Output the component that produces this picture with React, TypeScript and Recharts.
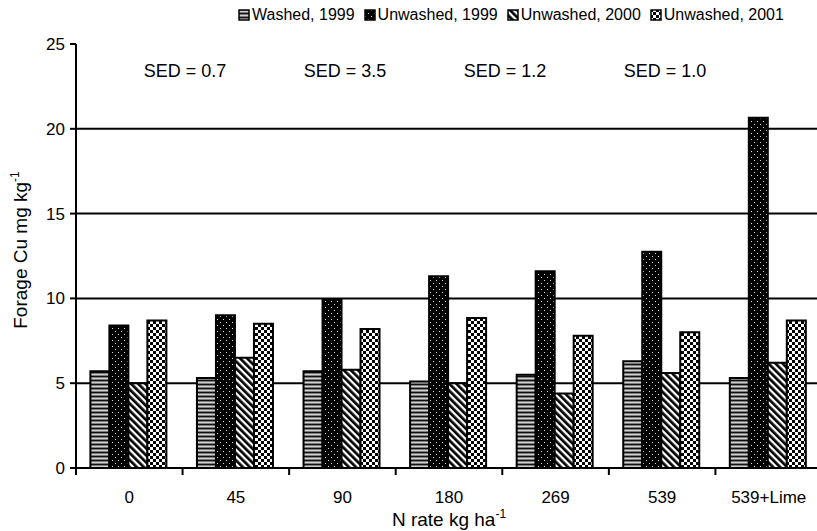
import React from 'react';
import { BarChart, Bar, XAxis, YAxis, CartesianGrid, Legend, Customized, Label } from 'recharts';

const categories = ['0', '45', '90', '180', '269', '539', '539+Lime'];
const seriesNames = ['Washed, 1999', 'Unwashed, 1999', 'Unwashed, 2000', 'Unwashed, 2001'];
const washed1999 = [5.7, 5.3, 5.7, 5.1, 5.5, 6.3, 5.3];
const unwashed1999 = [8.4, 9.0, 9.9, 11.3, 11.6, 12.75, 20.65];
const unwashed2000 = [5.0, 6.5, 5.8, 5.0, 4.4, 5.6, 6.2];
const unwashed2001 = [8.7, 8.5, 8.2, 8.85, 7.8, 8.0, 8.7];
const yTicks = [0, 5, 10, 15, 20, 25];
const gridValues = [5, 10, 15, 20];
const sedLabels = ['SED = 0.7', 'SED = 3.5', 'SED = 1.2', 'SED = 1.0'];
const sedX = [185, 345, 505, 665];

const FONT = '"Liberation Sans", Arial, Helvetica, sans-serif';
const keys = ['w99', 'u99', 'u00', 'u01'];
const patternIds = ['patW99', 'patU99', 'patU00', 'patU01'];

const data = categories.map((c, i) => ({
  cat: c,
  w99: washed1999[i],
  u99: unwashed1999[i],
  u00: unwashed2000[i],
  u01: unwashed2001[i],
}));

const Patterns = () => (
  <defs>
    <pattern id="patW99" patternUnits="userSpaceOnUse" width="6" height="4">
      <rect x="0" y="0" width="6" height="4" fill="#7c7c7c" />
      <rect x="0" y="0" width="6" height="1" fill="#111" />
      <rect x="0" y="2" width="6" height="1" fill="#d0d0d0" />
    </pattern>
    <pattern id="patU99" patternUnits="userSpaceOnUse" width="6" height="6">
      <rect x="0" y="0" width="6" height="6" fill="#000" />
      <rect x="1" y="1" width="1" height="1" fill="#ddd" />
      <rect x="4" y="4" width="1" height="1" fill="#ddd" />
    </pattern>
    <pattern id="patU00" patternUnits="userSpaceOnUse" width="5" height="10" patternTransform="rotate(-45)">
      <rect x="0" y="0" width="5" height="10" fill="#fff" />
      <rect x="0" y="0" width="2.7" height="10" fill="#000" />
    </pattern>
    <pattern id="patU01" patternUnits="userSpaceOnUse" width="6" height="6">
      <rect x="0" y="0" width="6" height="6" fill="#fff" />
      <rect x="0" y="0" width="3" height="3" fill="#000" />
      <rect x="3" y="3" width="3" height="3" fill="#000" />
    </pattern>
  </defs>
);

const XTick = (props: any) => {
  const { x, y, payload } = props;
  const half = payload && typeof payload.offset === 'number' ? payload.offset : 53.3;
  return (
    <g>
      <line x1={x - half} x2={x - half} y1={y} y2={y + 7} stroke="#000" strokeWidth={2} />
      <text x={x} y={y + 35} textAnchor="middle" fontFamily={FONT} fontSize={17} fill="#000">
        {payload.value}
      </text>
    </g>
  );
};

const LegendContent = () => (
  <div style={{ display: 'flex', alignItems: 'center', paddingLeft: 238, fontFamily: FONT, fontSize: 16, color: '#000', lineHeight: '18px' }}>
    {seriesNames.map((n, i) => (
      <div key={n} style={{ display: 'flex', alignItems: 'center', marginRight: 9 }}>
        <svg width={12} height={12} style={{ marginRight: 2 }}>
          <rect x={1} y={1} width={10} height={10} fill={`url(#${patternIds[i]})`} stroke="#000" strokeWidth={1.5} />
        </svg>
        <span>{n}</span>
      </div>
    ))}
  </div>
);

const SedText = () => (
  <g>
    {sedLabels.map((s, i) => (
      <text key={s} x={sedX[i]} y={77} textAnchor="middle" fontFamily={FONT} fontSize={18} fill="#000">
        {s}
      </text>
    ))}
  </g>
);

const YTitle = (props: any) => {
  const vb = props.viewBox || { x: 0, y: 44, width: 76, height: 424 };
  const cx = vb.x + 27;
  const cy = vb.y + vb.height / 2 - 6;
  return (
    <text x={cx} y={cy} transform={`rotate(-90, ${cx}, ${cy})`} textAnchor="middle" fontFamily={FONT} fontSize={19} fill="#000">
      Forage Cu mg kg<tspan dy={-8} fontSize={12}>-1</tspan>
    </text>
  );
};

const XTitle = (props: any) => {
  const vb = props.viewBox || { x: 76, y: 468, width: 746, height: 63 };
  const cx = vb.x + vb.width / 2;
  return (
    <text x={cx} y={vb.y + 58} textAnchor="middle" fontFamily={FONT} fontSize={19} fill="#000">
      N rate kg ha<tspan dy={-8} fontSize={12}>-1</tspan>
    </text>
  );
};

export default function App() {
  return (
    <div style={{ position: 'absolute', left: 0, top: 0, width: 817, height: 531, overflow: 'hidden', background: '#fff' }}>
      <BarChart
        width={830}
        height={531}
        data={data}
        margin={{ top: 44, right: 8, left: 0, bottom: 0 }}
        barGap={0}
        barCategoryGap="13.5%"
      >
        <Patterns />
        <CartesianGrid vertical={false} horizontalValues={gridValues} stroke="#000" strokeWidth={2} />
        <XAxis
          dataKey="cat"
          height={63}
          tickSize={0}
          tickMargin={0}
          tick={<XTick />}
          tickLine={false}
          axisLine={{ stroke: '#000', strokeWidth: 2 }}
          interval={0}
        >
          <Label content={<XTitle />} />
        </XAxis>
        <YAxis
          width={76}
          domain={[0, 25]}
          ticks={yTicks}
          interval={0}
          tickSize={6}
          tickMargin={5}
          tickLine={{ stroke: '#000', strokeWidth: 2 }}
          axisLine={{ stroke: '#000', strokeWidth: 2 }}
          tick={{ fontFamily: FONT, fontSize: 17, fill: '#000' }}
        >
          <Label content={<YTitle />} />
        </YAxis>
        {keys.map((k, i) => (
          <Bar key={k} dataKey={k} name={seriesNames[i]} fill={`url(#${patternIds[i]})`} stroke="#000" strokeWidth={2} isAnimationActive={false} />
        ))}
        <Legend
          layout="horizontal"
          verticalAlign="middle"
          align="center"
          content={<LegendContent />}
          wrapperStyle={{ top: 6, left: 0, width: 817 }}
        />
        <Customized component={<SedText />} />
      </BarChart>
    </div>
  );
}
